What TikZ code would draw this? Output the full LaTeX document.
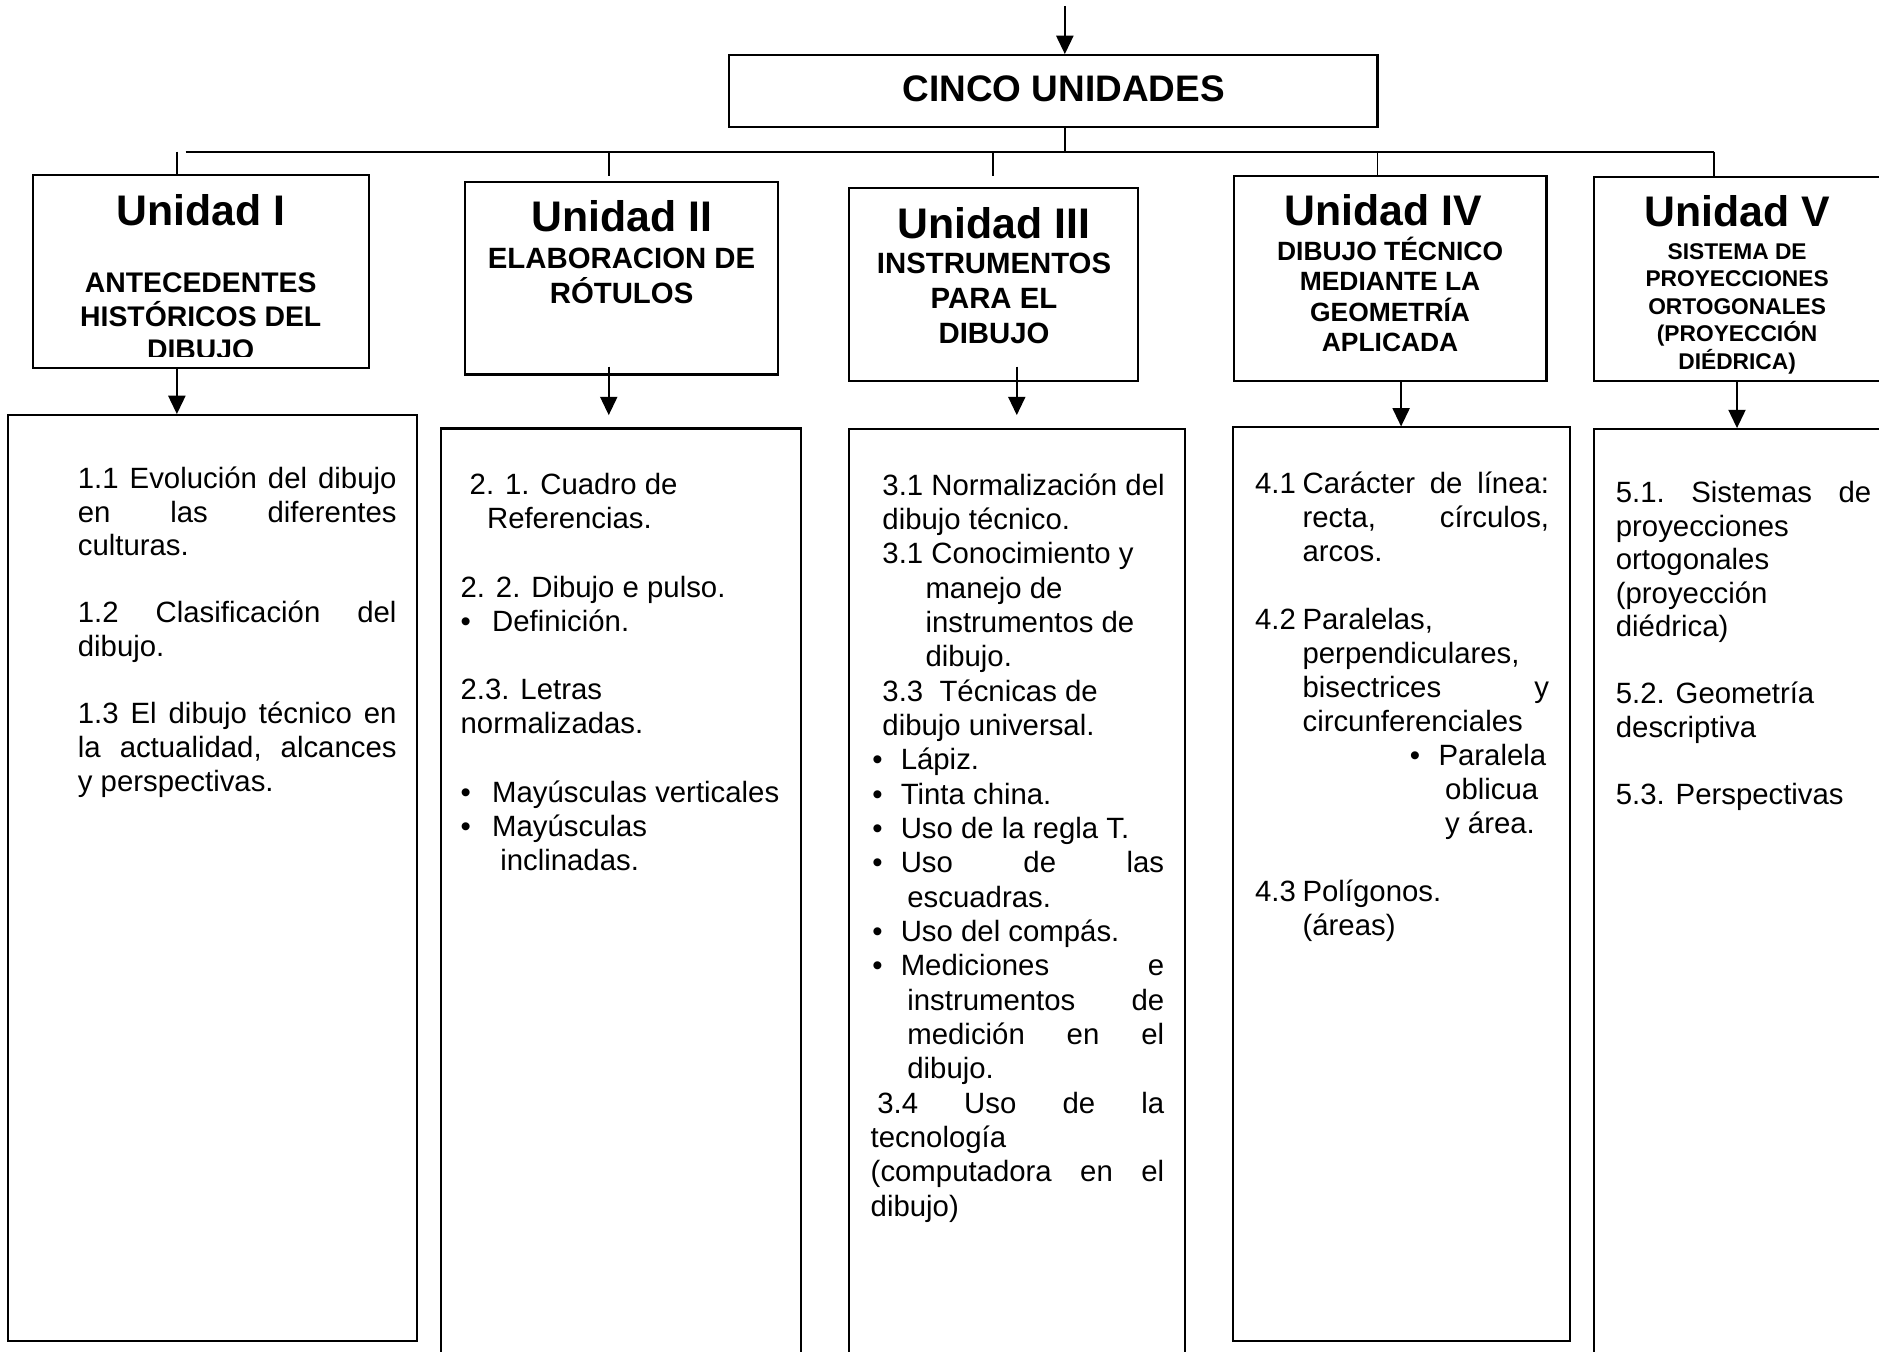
\documentclass[tikz,border=0pt]{standalone}
\usepackage{fontspec}
\setmainfont{Liberation Sans}
\usetikzlibrary{arrows.meta,fit}
\newcommand\Rl[2][0pt]{\hbox{\hskip#1\relax#2}}
\newcommand\Jl[2][0pt]{\hbox to\hsize{\hskip#1\relax#2}}
\newcommand\Bu[1]{\makebox[#1][l]{•}}
\tikzset{
  box/.style={draw, line width=0.85pt, inner sep=0pt},
  conn/.style={line width=0.75pt},
  arr/.style={line width=0.75pt, -{Triangle[width=7pt,length=7.5pt]}},
  txt/.style={anchor=base west, inner sep=0pt},
  head/.style={anchor=base, inner sep=0pt, font=\fontsize{17.5}{20}\selectfont\bfseries},
  sub/.style={anchor=base, inner sep=0pt}
}
\begin{document}
\begin{tikzpicture}[x=0.49pt,y=-0.49pt]
\useasboundingbox (0,0) rectangle (1568,1127.4);

% main box
\node[box, fit={(608,46) (1149.5,106.3)}] (cinco) {};
\node[anchor=base, inner sep=0pt, font=\fontsize{15.1}{17}\selectfont\bfseries] (cincot) at (887.7,84.9) {CINCO UNIDADES};

% unit boxes
\node[box, fit={(27.5,146) (308,307)}] (u1) {};
\node[box, fit={(388,151.6) (649,312.5)}] (u2) {};
\node[box, fit={(708.2,157.2) (949.4,317.8)}] (u3) {};
\node[box, fit={(1029.5,146.6) (1290.5,317.8)}] (u4) {};
\node[box, fit={(1330,148) (1620,317.8)}] (u5) {};

% text boxes
\node[box, fit={(7,346.4) (348,1119.4)}] (t1) {};
\node[box, fit={(368,357.6) (668.5,1145)}] (t2) {};
\node[box, fit={(708.2,358.1) (988.6,1145)}] (t3) {};
\node[box, fit={(1029,356.7) (1309.8,1119.4)}] (t4) {};
\node[box, fit={(1330,358.1) (1620,1145)}] (t5) {};

% connectors
\coordinate (top) at (888.6,5);
\draw[arr] (top) -- (top |- cinco.north);
\coordinate (hub) at (888.6,126.6);
\draw[conn] (cinco.south -| hub) -- (hub);
\coordinate (hl) at (155,126.6);
\coordinate (hr) at (1430,126.6);
\draw[conn] (hl) -- (hr);
\coordinate (s1) at (147.6,126.6);
\draw[conn] (s1) -- (s1 |- u1.north);
\coordinate (s2) at (508,126.6);
\coordinate (e2) at (508,147);
\draw[conn] (s2) -- (e2);
\coordinate (s3) at (828.8,126.6);
\coordinate (e3) at (828.8,146.6);
\draw[conn] (s3) -- (e3);
\coordinate (s4) at (1149.5,126.6);
\draw[conn] (s4) -- (s4 |- u4.north);
\coordinate (s5) at (1430,126.6);
\draw[conn] (s5) -- (s5 |- u5.north);

\coordinate (a1) at (147.6,307);
\draw[arr] (a1) -- (a1 |- t1.north);
\coordinate (a2) at (508,306);
\coordinate (b2) at (508,346.4);
\draw[arr] (a2) -- (b2);
\coordinate (a3) at (848.5,306);
\coordinate (b3) at (848.5,346.4);
\draw[arr] (a3) -- (b3);
\coordinate (a4) at (1169.2,317.8);
\draw[arr] (a4) -- (a4 |- t4.north);
\coordinate (a5) at (1449.5,317.8);
\draw[arr] (a5) -- (a5 |- t5.north);

% headings
\node[head] (h1) at (167.5,187.8) {Unidad I};
\begin{scope}
\clip (27.5,146) rectangle (308,297.5);
\node[sub] (h1s) at (167.5,244.3) {\parbox[t]{150pt}{\centering\fontsize{11.6}{13.6}\selectfont\bfseries ANTECEDENTES\\HISTÓRICOS DEL\\DIBUJO}};
\end{scope}
\node[head] (h2) at (518.7,192.8) {Unidad II};
\node[sub] (h2s) at (518.7,224) {\parbox[t]{150pt}{\centering\fontsize{12}{14.3}\selectfont\bfseries ELABORACION DE\\RÓTULOS}};
\node[head] (h3) at (829.5,199) {Unidad III};
\node[sub] (h3s) at (829.5,228.2) {\parbox[t]{150pt}{\centering\fontsize{12}{14.3}\selectfont\bfseries INSTRUMENTOS\\PARA EL\\DIBUJO}};
\node[head] (h4) at (1154,187.8) {Unidad IV};
\node[sub] (h4s) at (1160,217) {\parbox[t]{150pt}{\centering\fontsize{10.8}{12.5}\selectfont\bfseries DIBUJO TÉCNICO\\MEDIANTE LA\\GEOMETRÍA\\APLICADA}};
\node[head] (h5) at (1449.6,189.2) {Unidad V};
\node[sub] (h5s) at (1449.6,216.5) {\parbox[t]{120pt}{\centering\fontsize{9.3}{11.25}\selectfont\bfseries SISTEMA DE\\PROYECCIONES\\ORTOGONALES\\(PROYECCIÓN\\DIÉDRICA)}};

% box 1 text
\node[txt] (x1) at (64.6,407.6) {\parbox[t]{130.3pt}{\fontsize{12}{13.75}\selectfont
\Jl{1.1\hfill Evolución\hfill del\hfill dibujo}
\Jl{en\hfill las\hfill diferentes}
\Rl{culturas.}
\Rl{}
\Jl{1.2\hfill Clasificación\hfill del}
\Rl{dibujo.}
\Rl{}
\Jl{1.3\hfill El\hfill dibujo\hfill técnico\hfill en}
\Jl{la\hfill actualidad,\hfill alcances}
\Rl{y perspectivas.}}};

% box 2 text
\node[txt] (x2) at (384,412.6) {\parbox[t]{140pt}{\fontsize{12}{13.99}\selectfont
\Rl[3.7pt]{2. 1. Cuadro de}
\Rl[10.8pt]{Referencias.}
\Rl{}
\Rl{2. 2. Dibujo e pulso.}
\Rl{\Bu{12.9pt}Definición.}
\Rl{}
\Rl{2.3. Letras}
\Rl{normalizadas.}
\Rl{}
\Rl{\Bu{12.9pt}Mayúsculas verticales}
\Rl{\Bu{12.9pt}Mayúsculas}
\Rl[16.2pt]{inclinadas.}}};

% box 3 text
\node[txt] (x3) at (726.2,413.2) {\parbox[t]{120pt}{\fontsize{12}{14.04}\selectfont
\Rl[4.8pt]{3.1 Normalización del}
\Rl[4.8pt]{dibujo técnico.}
\Rl[4.8pt]{3.1 Conocimiento y}
\Rl[22.4pt]{manejo de}
\Rl[22.4pt]{instrumentos de}
\Rl[22.4pt]{dibujo.}
\Rl[4.8pt]{3.3~~Técnicas de}
\Rl[4.8pt]{dibujo universal.}
\Rl[0.7pt]{\Bu{11.6pt}Lápiz.}
\Rl[0.7pt]{\Bu{11.6pt}Tinta china.}
\Rl[0.7pt]{\Bu{11.6pt}Uso de la regla T.}
\Jl[0.7pt]{\Bu{11.6pt}Uso\hfill de\hfill las}
\Rl[15pt]{escuadras.}
\Rl[0.7pt]{\Bu{11.6pt}Uso del compás.}
\Jl[0.7pt]{\Bu{11.6pt}Mediciones\hfill e}
\Jl[15pt]{instrumentos\hfill de}
\Jl[15pt]{medición\hfill en\hfill el}
\Rl[15pt]{dibujo.}
\Jl[2.7pt]{3.4\hfill Uso\hfill de\hfill la}
\Rl{tecnología}
\Jl{(computadora\hfill en\hfill el}
\Rl{dibujo)}}};

% box 4 text
\node[txt] (x4) at (1047,411.8) {\parbox[t]{120.2pt}{\fontsize{12}{13.9}\selectfont
\Jl{\makebox[19.4pt][l]{4.1}Carácter\hfill de\hfill línea:}
\Jl[19.4pt]{recta,\hfill círculos,}
\Rl[19.4pt]{arcos.}
\Rl{}
\Rl{\makebox[19.4pt][l]{4.2}Paralelas,}
\Rl[19.4pt]{perpendiculares,}
\Jl[19.4pt]{bisectrices\hfill y}
\Rl[19.4pt]{circunferenciales}
\Rl[63.3pt]{\Bu{11.7pt}Paralela}
\Rl[77.7pt]{oblicua}
\Rl[77.7pt]{y área.}
\Rl{}
\Rl{\makebox[19.4pt][l]{4.3}Polígonos.}
\Rl[19.4pt]{(áreas)}}};

% box 5 text
\node[txt] (x5) at (1348,419.5) {\parbox[t]{104.4pt}{\fontsize{12}{13.7}\selectfont
\Jl{5.1.\hfill Sistemas\hfill de}
\Rl{proyecciones}
\Rl{ortogonales}
\Rl{(proyección}
\Rl{diédrica)}
\Rl{}
\Rl{5.2. Geometría}
\Rl{descriptiva}
\Rl{}
\Rl{5.3. Perspectivas}}};
\end{tikzpicture}
\end{document}
